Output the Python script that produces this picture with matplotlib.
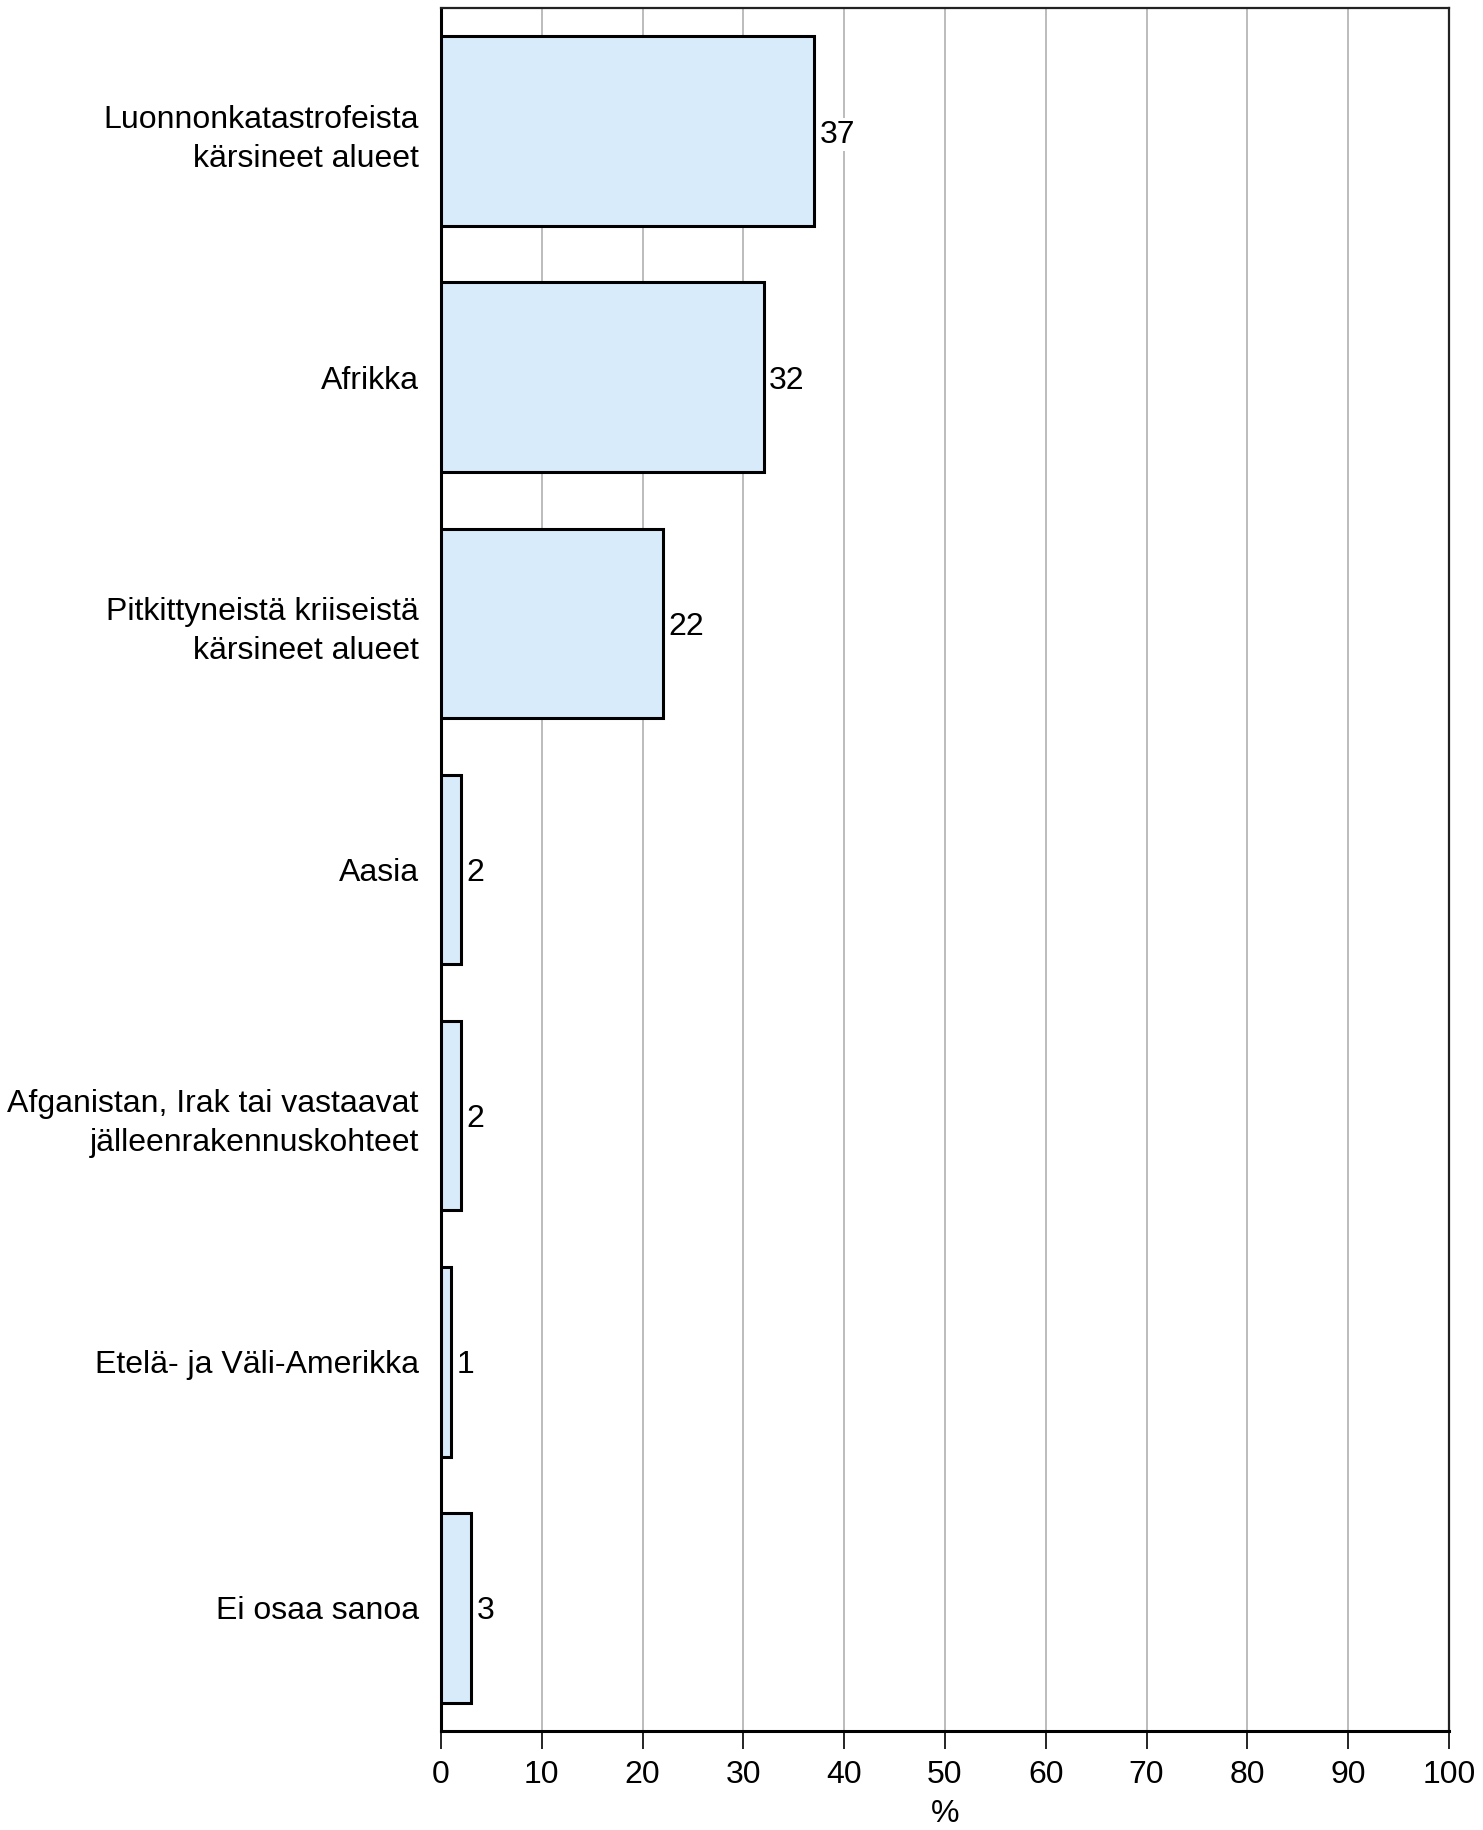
import matplotlib
matplotlib.use("Agg")
import matplotlib.pyplot as plt

categories = [
    "Luonnonkatastrofeista\nkärsineet alueet",
    "Afrikka",
    "Pitkittyneistä kriiseistä\nkärsineet alueet",
    "Aasia",
    "Afganistan, Irak tai vastaavat\njälleenrakennuskohteet",
    "Etelä- ja Väli-Amerikka",
    "Ei osaa sanoa",
]
values = [37, 32, 22, 2, 2, 1, 3]
xticks = [0, 10, 20, 30, 40, 50, 60, 70, 80, 90, 100]

plt.rcParams['font.family'] = ['Liberation Sans', 'DejaVu Sans']
FS = 23

fig = plt.figure(figsize=(14.83, 18.30), dpi=100)
ax = fig.add_axes([441/1483, 1 - 1731/1830, (1449-441)/1483, (1731-8)/1830])

ypos = list(range(len(categories)))
bars = ax.barh(ypos, values, height=0.77, color='#d8ebfb', edgecolor='black',
               linewidth=2.2, zorder=3)
ax.set_ylim(len(categories) - 0.5, -0.5)
ax.set_xlim(0, 100)
ax.set_xticks(xticks)
ax.set_xticklabels([str(t) for t in xticks], fontsize=FS)
ax.set_yticks(ypos)
ax.set_yticklabels(categories, fontsize=FS, linespacing=1.4)
ax.tick_params(axis='y', length=0, pad=16)
ax.tick_params(axis='x', direction='out', length=13, width=1.2, pad=8, color='black')
ax.xaxis.grid(True, color='#b0b0b0', linewidth=1.2, zorder=0)
ax.set_axisbelow(True)

for v, y in zip(values, ypos):
    ax.annotate(str(v), xy=(v, y), xytext=(4, 0), textcoords='offset points',
                ha='left', va='center_baseline', fontsize=FS, zorder=4,
                bbox=dict(boxstyle='square,pad=0.05', fc='white', ec='none'))

ax.set_xlabel('%', fontsize=FS, labelpad=6)

for side in ['left', 'bottom']:
    ax.spines[side].set_linewidth(2.2)
    ax.spines[side].set_color('black')
for side in ['top', 'right']:
    ax.spines[side].set_linewidth(1.6)
    ax.spines[side].set_color('#222222')

fig.savefig('out.png', dpi=100)
